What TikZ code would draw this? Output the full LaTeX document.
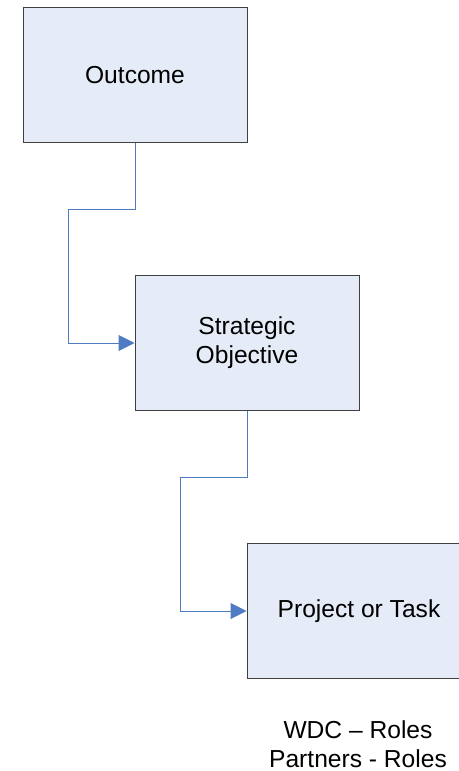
\documentclass[tikz,border=0pt]{standalone}
\usepackage{fontspec}
\setmainfont{Liberation Sans}
\usetikzlibrary{arrows.meta}
\definecolor{boxfill}{HTML}{E6ECF7}
\definecolor{boxline}{HTML}{404040}
\definecolor{linkblue}{HTML}{4F7BC4}
\begin{document}
\begin{tikzpicture}
		[x=1pt,y=-1pt,%
		  every node/.style={inner sep=0pt,align=center,font=\fontsize{24.6}{29}\selectfont},
		  box/.style={shape=rectangle,draw=boxline,fill=boxfill,line width=1pt,
		    minimum width=224pt,minimum height=135pt},
		  link/.style={draw=linkblue,line width=1pt,-{Triangle[length=16pt,width=16pt]}}]
		\useasboundingbox (0,0) rectangle (458,771);
		\node[box] (outcome) at (135,75) {Outcome};
		\node[box] (objective) at (247,343) {Strategic\\Objective};
		\node[box] (task) at (359,611) {Project or Task};
		\node (roles) at (358,744) {WDC -- Roles\\Partners - Roles};
		% elbows of the connectors
		\coordinate (bendA) at (68,209);
		\coordinate (bendB) at (180,477);
		\draw[link] (outcome.south) |- (bendA) |- (objective.west);
		\draw[link] (objective.south) |- (bendB) |- (task.west);
	\end{tikzpicture}
\end{document}
